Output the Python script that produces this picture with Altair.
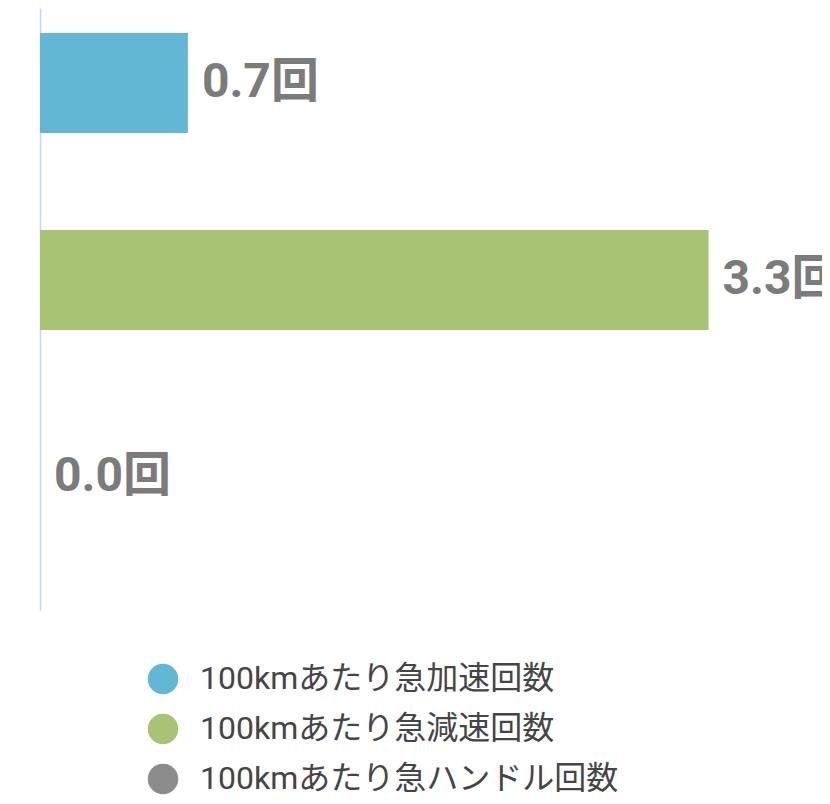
import altair as alt
import pandas as pd

categories = ["100kmあたり急加速回数", "100kmあたり急減速回数", "100kmあたり急ハンドル回数"]
values = [0.73, 3.3, 0.0]
colors = ["#62b8d4", "#a8c373", "#8c8c8c"]

df = pd.DataFrame({"cat": categories, "value": values})

FONT = "Roboto, 'Noto Sans CJK JP', sans-serif"

base = alt.Chart(df).transform_calculate(
    label="format(datum.value, '.1f') + '回'"
).encode(
    y=alt.Y(
        "cat:N",
        sort=categories,
        scale=alt.Scale(paddingInner=0.4924, paddingOuter=0.274, align=0.231),
        axis=alt.Axis(labels=False, ticks=False, title=None, grid=False,
                      domainColor="#c9d4f2", domainWidth=1.5),
    )
)

bars = base.mark_bar(opacity=1).encode(
    x=alt.X("value:Q", scale=alt.Scale(domain=[0, 3.86]), axis=None),
    color=alt.Color(
        "cat:N",
        sort=categories,
        scale=alt.Scale(domain=categories, range=colors),
        legend=alt.Legend(
            orient="none", legendX=107, legendY=655, title=None,
            symbolType="circle", symbolSize=930, symbolStrokeWidth=0,
            labelFontSize=32, labelFont=FONT, labelColor="#454545",
            rowPadding=18, labelOffset=21, padding=0, labelLimit=0,
        ),
    ),
)

text = base.mark_text(
    align="left", baseline="middle", dx=14, fontSize=48, fontWeight="bold",
    color="#7b7b7b", font=FONT,
).encode(
    x=alt.X("value:Q", scale=alt.Scale(domain=[0, 3.86]), axis=None),
    text="label:N",
)

chart = (bars + text).properties(
    width=782,
    height=602,
    padding={"left": 32, "top": 0, "right": 0, "bottom": 186},
    autosize=alt.AutoSizeParams(type="none"),
    background="white",
).configure_view(stroke=None)

chart.save("out.html", embed_options={"renderer": "svg", "actions": False})
